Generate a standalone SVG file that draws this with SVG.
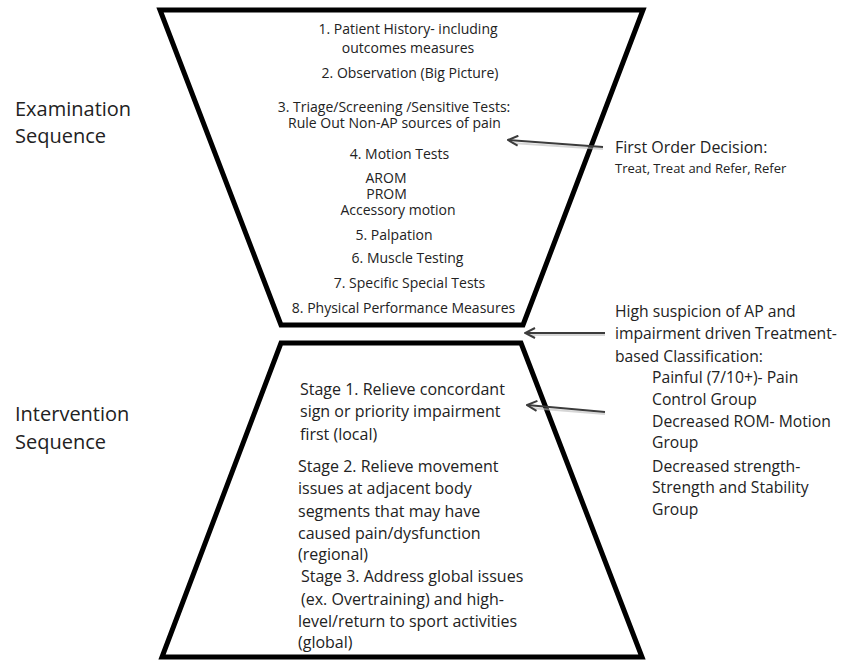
<svg xmlns="http://www.w3.org/2000/svg" width="845" height="661" viewBox="0 0 845 661">
<defs>
<style>
text{font-family:"Open Sans","Noto Sans","Liberation Sans",sans-serif;fill:#222}
.t{font-size:14px;text-anchor:middle}
.s{font-size:16px}
.r{font-size:15.7px}
.l{font-size:20px}
.trap{fill:#fff;stroke:#000;stroke-width:5;stroke-linejoin:miter}
.arr{fill:none;stroke:#3c3c3c;stroke-width:2;marker-end:url(#ah)}
.sh{fill:none;stroke:#bbb;stroke-width:2;opacity:0.6}
</style>
<marker id="ah" viewBox="0 0 12 12" refX="11" refY="6" markerWidth="12" markerHeight="12" markerUnits="userSpaceOnUse" orient="auto">
<path d="M1,1 L11,6 L1,11" fill="none" stroke="#3c3c3c" stroke-width="2"/>
</marker>
</defs>
<rect width="845" height="661" fill="#fff"/>
<g id="examination">
<polygon class="trap" points="160,10 643,10 523,325 281,325"/>
<text class="t" x="408" y="34">1. Patient History-  including</text>
<text class="t" x="408" y="53">outcomes measures</text>
<text class="t" x="410" y="78">2. Observation (Big Picture)</text>
<text class="t" x="394" y="112">3. Triage/Screening /Sensitive Tests:</text>
<text class="t" x="394.5" y="128">Rule Out Non-AP sources of pain</text>
<text class="t" x="399.5" y="159">4. Motion Tests</text>
<text class="t" x="386" y="183">AROM</text>
<text class="t" x="386.5" y="199">PROM</text>
<text class="t" x="398" y="215">Accessory motion</text>
<text class="t" x="394" y="240">5. Palpation</text>
<text class="t" x="407.5" y="263">6. Muscle Testing</text>
<text class="t" x="409.5" y="288">7. Specific Special Tests</text>
<text class="t" x="403.5" y="313">8. Physical Performance Measures</text>
</g>
<g id="intervention">
<polygon class="trap" points="281,343 521,343 642,657 162,657"/>
<text class="s" x="300" y="395">Stage 1. Relieve concordant</text>
<text class="s" x="300" y="417">sign or priority impairment</text>
<text class="s" x="300" y="440">first (local)</text>
<text class="s" x="298" y="472">Stage 2. Relieve movement</text>
<text class="s" x="298" y="494">issues at adjacent body</text>
<text class="s" x="298" y="517">segments that may have</text>
<text class="s" x="298" y="539">caused pain/dysfunction</text>
<text class="s" x="298" y="560">(regional)</text>
<text class="s" x="301" y="582">Stage 3. Address global issues</text>
<text class="s" x="301" y="605">(ex. Overtraining) and high-</text>
<text class="s" x="298" y="627">level/return to sport activities</text>
<text class="s" x="298" y="648">(global)</text>
</g>
<g id="label-examination">
<text class="l" x="15" y="116">Examination</text>
<text class="l" x="15" y="143">Sequence</text>
</g>
<g id="label-intervention">
<text class="l" x="15" y="421">Intervention</text>
<text class="l" x="15" y="449">Sequence</text>
</g>
<g id="first-order">
<text x="615" y="153" style="font-size:16px">First Order Decision:</text>
<text x="615" y="173" style="font-size:13px">Treat, Treat and Refer, Refer</text>
</g>
<g id="classification">
<text class="r" x="615" y="317">High suspicion of AP and</text>
<text class="r" x="615" y="339">impairment driven Treatment-</text>
<text class="r" x="615" y="362">based Classification:</text>
<text class="r" x="652" y="383">Painful (7/10+)- Pain</text>
<text class="r" x="652" y="405">Control Group</text>
<text class="r" x="652" y="427">Decreased ROM- Motion</text>
<text class="r" x="652" y="448">Group</text>
<text class="r" x="652" y="472">Decreased strength-</text>
<text class="r" x="652" y="493">Strength and Stability</text>
<text class="r" x="652" y="515">Group</text>
</g>
<g id="connectors">
<line class="sh" x1="603" y1="149" x2="512" y2="143"/>
<line class="sh" x1="605" y1="335" x2="530" y2="335"/>
<line class="sh" x1="605" y1="414" x2="531" y2="408"/>
<line class="arr" x1="603" y1="147" x2="508" y2="140"/>
<line class="arr" x1="605" y1="333" x2="525" y2="333"/>
<line class="arr" x1="605" y1="412" x2="527" y2="405"/>
</g>
</svg>
